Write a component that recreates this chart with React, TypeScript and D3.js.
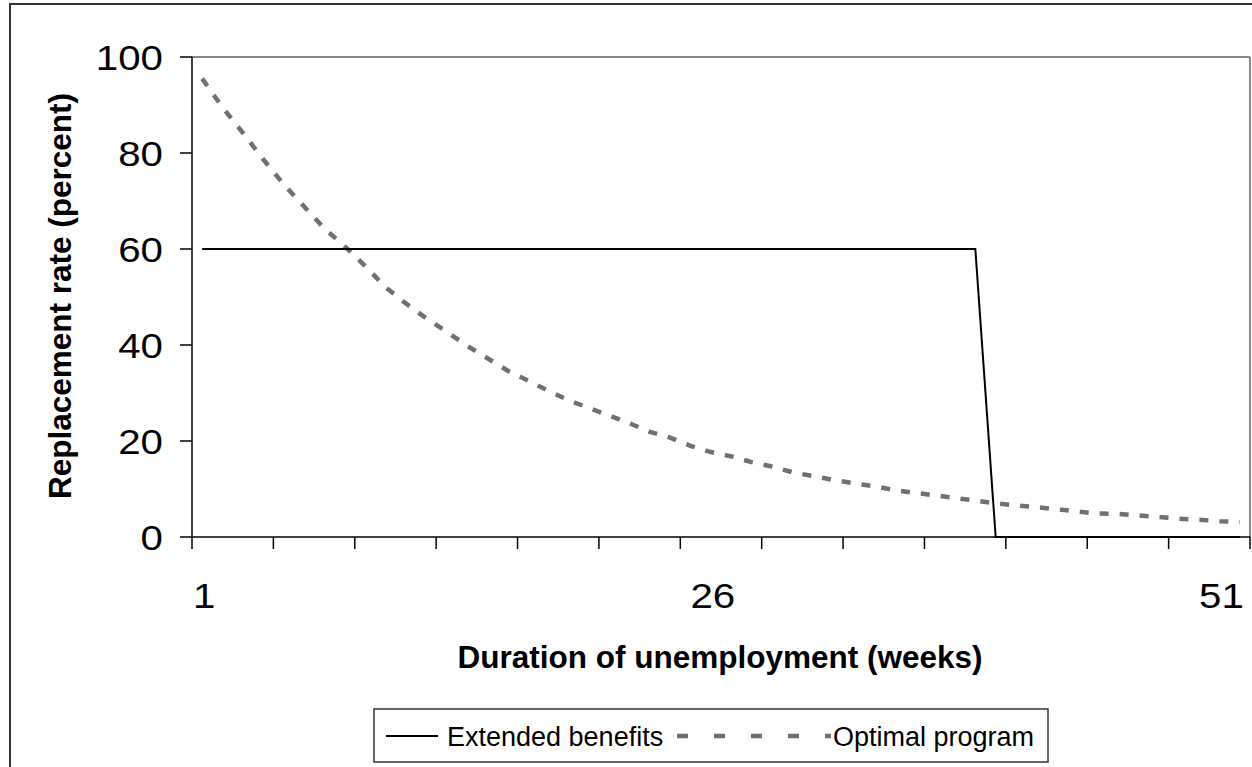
import React from "react";
import * as d3 from "d3";

const weeks: number[] = Array.from({ length: 52 }, (_, i) => i + 1);

const extendedBenefits: number[] = [
  60, 60, 60, 60, 60, 60, 60, 60, 60, 60,
  60, 60, 60, 60, 60, 60, 60, 60, 60, 60,
  60, 60, 60, 60, 60, 60, 60, 60, 60, 60,
  60, 60, 60, 60, 60, 60, 60, 60, 60, 0,
  0, 0, 0, 0, 0, 0, 0, 0, 0, 0,
  0, 0,
];

const optimalProgram: number[] = [
  95.5, 89.5, 84.2, 78.7, 73.5, 68.9, 64.3, 60.6, 56.5, 52.1,
  48.7, 45.6, 42.8, 39.9, 37.3, 34.7, 32.6, 30.5, 28.5, 26.9,
  25.3, 23.7, 21.9, 20.7, 19.0, 17.7, 16.8, 15.6, 14.7, 13.5,
  12.7, 11.9, 11.2, 10.6, 9.8, 9.2, 8.7, 8.1, 7.6, 7.0,
  6.6, 6.2, 5.8, 5.3, 4.9, 4.8, 4.5, 4.2, 3.8, 3.6,
  3.3, 3.1,
];

const yTicks: number[] = [0, 20, 40, 60, 80, 100];
const xLabelWeeks: number[] = [1, 26, 51];
const seriesNames: string[] = ["Extended benefits", "Optimal program"];

const FONT = "Arial, 'Liberation Sans', sans-serif";

export default function App() {
  const left = 192;
  const right = 1250;
  const top = 57;
  const bottom = 537;

  const x = d3
    .scaleBand<number>()
    .domain(weeks)
    .range([left, right])
    .paddingInner(0)
    .paddingOuter(0);
  const bw = x.bandwidth();
  const cx = (w: number) => (x(w) as number) + bw / 2;
  const y = d3.scaleLinear().domain([0, 100]).range([bottom, top]);

  const line = d3
    .line<number>()
    .x((_, i) => cx(weeks[i]))
    .y((v) => y(v));

  const boundaryTicks: number[] = [];
  for (let i = 0; i <= weeks.length; i += 4) boundaryTicks.push(left + i * bw);

  const tickSX = 1.15;

  return (
    <svg
      width={1252}
      height={767}
      style={{ position: "absolute", left: 0, top: 0, background: "#fff" }}
      fontFamily={FONT}
    >
      {/* outer chart border */}
      <rect x={10} y={4} width={1400} height={900} fill="#fff" stroke="#333" strokeWidth={2} />

      {/* plot area border (top & right) */}
      <line x1={left} x2={right} y1={top} y2={top} stroke="#888" strokeWidth={2} />
      <line x1={right} x2={right} y1={top} y2={bottom} stroke="#888" strokeWidth={2} />

      {/* y axis */}
      <line x1={left} x2={left} y1={top} y2={bottom} stroke="#000" strokeWidth={1.5} />
      {yTicks.map((t) => (
        <g key={t}>
          <line x1={left - 12} x2={left} y1={y(t)} y2={y(t)} stroke="#000" strokeWidth={1.5} />
          <text
            transform={`translate(163,${y(t)}) scale(${tickSX},1)`}
            dy="0.36em"
            textAnchor="end"
            fontSize={35}
            fill="#000"
          >
            {t}
          </text>
        </g>
      ))}

      {/* x axis */}
      {boundaryTicks.map((bx, i) => (
        <line key={i} x1={bx} x2={bx} y1={bottom} y2={bottom + 12} stroke="#000" strokeWidth={1.5} />
      ))}
      {xLabelWeeks.map((w) => (
        <text
          key={w}
          transform={`translate(${cx(w) + 2},608) scale(${tickSX},1)`}
          textAnchor="middle"
          fontSize={35}
          fill="#000"
        >
          {w}
        </text>
      ))}

      {/* series */}
      <path
        d={line(optimalProgram) || ""}
        fill="none"
        stroke="#707070"
        strokeWidth={4.5}
        strokeDasharray="9,11"
      />
      <path d={line(extendedBenefits) || ""} fill="none" stroke="#000" strokeWidth={2} />

      <line x1={left} x2={right} y1={bottom} y2={bottom} stroke="#000" strokeWidth={1.5} />

      {/* axis titles */}
      <text x={720} y={668} textAnchor="middle" fontSize={31.5} fontWeight="bold" fill="#000">
        Duration of unemployment (weeks)
      </text>
      <text
        transform={`translate(71,296) rotate(-90)`}
        textAnchor="middle"
        fontSize={31.5}
        fontWeight="bold"
        fill="#000"
      >
        Replacement rate (percent)
      </text>

      {/* legend */}
      <rect x={374} y={709} width={674} height={53} fill="#fff" stroke="#333" strokeWidth={1.5} />
      <line x1={386} x2={438} y1={736} y2={736} stroke="#000" strokeWidth={2} />
      <text x={447} y={736} dy="0.36em" fontSize={27} fill="#000">
        {seriesNames[0]}
      </text>
      <line
        x1={677}
        x2={831}
        y1={736}
        y2={736}
        stroke="#707070"
        strokeWidth={4.5}
        strokeDasharray="11,26"
      />
      <text x={833} y={736} dy="0.36em" fontSize={27} fill="#000">
        {seriesNames[1]}
      </text>
    </svg>
  );
}
